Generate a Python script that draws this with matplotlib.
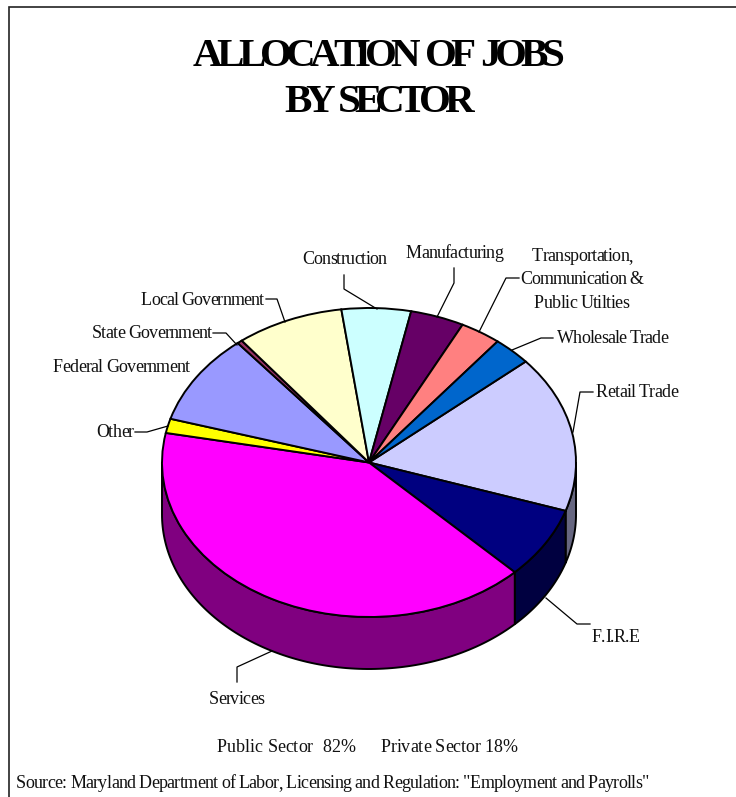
import numpy as np
import matplotlib
matplotlib.use("Agg")
import matplotlib.pyplot as plt
from matplotlib.font_manager import findfont, get_font
from matplotlib.ft2font import LoadFlags
from matplotlib.patches import Polygon
from matplotlib.text import Text
from matplotlib.transforms import Bbox

W, H = 736, 797

# Sector shares in percent, clockwise from Retail Trade
sectors = ["Retail Trade", "F.I.R.E", "Services", "Other", "Federal Government",
           "State Government", "Local Government", "Construction", "Manufacturing",
           "Transportation, Communication & Public Utilties", "Wholesale Trade"]
shares = [16.4, 7.5, 40.5, 1.5, 9.5, 0.4, 8.4, 5.4, 4.2, 3.2, 3.0]
top_colors = ["#CCCCFF", "#000080", "#FF00FF", "#FFFF00", "#9999FF", "#993366",
              "#FFFFCC", "#CCFFFF", "#660066", "#FF8080", "#0066CC"]
side_colors = ["#666680", "#000040", "#800080", "#808000", "#4D4D80", "#4D1A33",
               "#808066", "#668080", "#330033", "#804040", "#003366"]

# Text runs: string, left edge, right edge, baseline (pixels from the top left corner)
label_runs = [
    ("Retail Trade", 596, 678, 397),
    ("F.I.R.E", 592, 640, 642),
    ("Services", 209, 264, 704),
    ("Other", 96, 134, 437),
    ("Federal Government", 53, 190, 372),
    ("State Government", 92, 212, 338),
    ("Local Government", 141, 264, 305),
    ("Construction", 302, 387, 264),
    ("Manufacturing", 406, 503, 258),
    ("Transportation,", 532, 633, 261),
    ("Communication &", 520, 643, 284),
    ("Public Utilties", 534, 629, 308),
    ("Wholesale Trade", 557, 668, 343),
    ("Public Sector  82%", 217, 355, 752),
    ("Private Sector 18%", 381, 517, 752),
    ('Source: Maryland Department of Labor, Licensing and Regulation: "Employment and Payrolls"',
     16, 649, 788),
]
title_runs = [
    ("ALLOCATION OF JOBS", 193, 565, 66),
    ("BY SECTOR", 284, 474, 112),
]

# Elbow leader lines from labels to their slices
leaders = [
    [(593, 392), (580, 392), (573, 432)],
    [(590, 624), (577, 624), (546, 598)],
    [(237, 682), (237, 667), (272, 651)],
    [(135, 432), (147, 432), (168, 426)],
    [(213, 333), (226, 333), (237, 345)],
    [(266, 299), (277, 299), (285, 322)],
    [(344, 275), (344, 289), (377, 309)],
    [(454, 268), (454, 283), (437, 317)],
    [(519, 278), (506, 278), (479, 332)],
    [(553, 338), (541, 338), (512, 350)],
]


class FittedText(Text):
    """Single-line text whose letter spacing is adjusted to fill a given pixel span.

    space_share sets how much of the adjustment word spaces take, relative to letters.
    """

    def __init__(self, left, right, baseline, string, space_share=1.0, **kwargs):
        super().__init__(left, baseline, string, ha="left", va="baseline", **kwargs)
        self.right = right
        self.space_share = space_share

    def _advances(self):
        dpi = self.get_figure().dpi
        font = get_font(findfont(self.get_fontproperties()))
        font.set_size(self.get_fontsize(), dpi)
        s = self.get_text()
        adv = np.array([font.load_char(ord(c), flags=LoadFlags.NO_HINTING).linearHoriAdvance
                        / 65536 for c in s])
        share = np.array([self.space_share if c == " " else 1.0 for c in s])
        share[-1] = 0.0
        extra = (self.right - self._x - adv.sum()) / share.sum()
        return adv + extra * share

    def draw(self, renderer):
        if not self.get_visible():
            return
        gc = renderer.new_gc()
        gc.set_foreground(self.get_color())
        gc.set_antialiased(True)
        x, y = self.get_transform().transform((self._x, self._y))
        if renderer.flipy():
            y = renderer.get_canvas_width_height()[1] - y
        for ch, step in zip(self.get_text(), self._advances()):
            if ch != " ":
                renderer.draw_text(gc, x, y, ch, self.get_fontproperties(), 0)
            x += step
        gc.restore()
        self.stale = False

    def get_window_extent(self, renderer=None, dpi=None):
        x0, y0 = self.get_transform().transform((self._x, self._y))
        x1 = self.get_transform().transform((self.right, self._y))[0]
        size = self.get_fontsize() * self.get_figure().dpi / 72
        return Bbox([[x0, y0 - 0.22 * size], [x1, y0 + 0.7 * size]])


plt.rcParams["font.family"] = ["Liberation Serif", "DejaVu Serif"]
fig = plt.figure(figsize=(W / 100, H / 100), dpi=100, facecolor="white")

# Pixel-space overlay for frame, text and leader lines
page = fig.add_axes([0, 0, 1, 1], zorder=3)
page.set_xlim(0, W)
page.set_ylim(H, 0)
page.axis("off")
page.patch.set_alpha(0)

# Pie geometry on the page
cx, cy, rx, ry, depth = 369, 462.5, 207, 154.5, 52
d = depth / ry
pie_ax = fig.add_axes([(cx - rx) / W, 1 - (cy + ry + depth) / H,
                       2 * rx / W, (2 * ry + depth) / H], zorder=2)

lw = 1.4
start = 40.8
wedges, _ = pie_ax.pie(shares, colors=top_colors, startangle=start, counterclock=False,
                       radius=1, wedgeprops=dict(edgecolor="black", linewidth=lw, zorder=3))
pie_ax.set_aspect("auto")
pie_ax.set_xlim(-1, 1)
pie_ax.set_ylim(-1 - d, 1)
for w in wedges:
    w.set_clip_on(False)

# Extruded rim: only the part of each slice facing the viewer
edges = start - np.cumsum([0] + shares) * 3.6
for i, color in enumerate(side_colors):
    a0, a1 = edges[i], edges[i + 1]
    lo, hi = max(a1, -180), min(a0, 0)
    if lo >= hi:
        continue
    t = np.radians(np.linspace(hi, lo, 120))
    x, y = np.cos(t), np.sin(t)
    verts = np.r_[np.c_[x, y], np.c_[x, y - d][::-1]]
    pie_ax.add_patch(Polygon(verts, closed=True, facecolor=color, edgecolor="black",
                             linewidth=lw, zorder=2, clip_on=False))

# Frame: top and left rules run off the page
page.plot([8.5, 8.5, W], [H, 6.5, 6.5], color="#222222", lw=1.2, solid_joinstyle="miter")

for s, left, right, base in title_runs:
    page.add_artist(FittedText(left, right, base, s, space_share=0.0, fontsize=29.5,
                               fontweight="bold", color="black"))
for s, left, right, base in label_runs:
    page.add_artist(FittedText(left, right, base, s, fontsize=13, color="#111111"))
for path in leaders:
    xs, ys = zip(*path)
    page.plot(xs, ys, color="black", lw=0.9)

fig.savefig("out.png", dpi=100)
